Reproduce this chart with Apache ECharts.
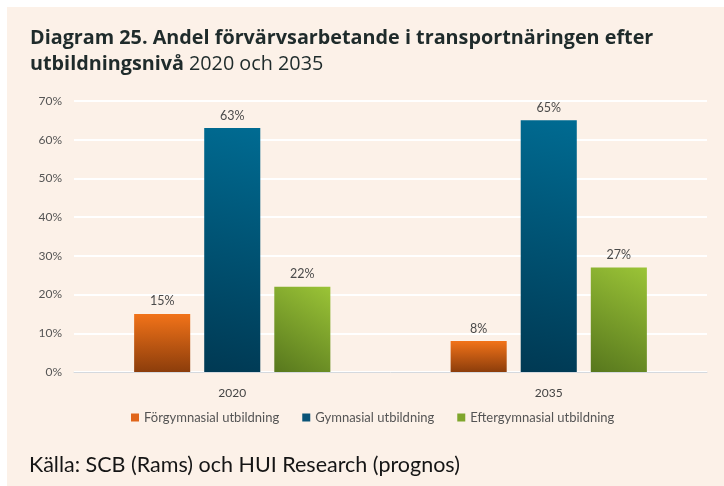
<!DOCTYPE html>
<html>
<head>
<meta charset="utf-8">
<script src="https://cdn.jsdelivr.net/npm/echarts@6/dist/echarts.min.js"></script>
<style>
    html, body { margin: 0; padding: 0; background: #fff; }
    #chart { width: 724px; height: 486px; }
</style>
</head>
<body>
<div id="chart"></div>
<script>
// data
var years = ["2020", "2035"];
var forgymnasial = [15, 8];
var gymnasial = [63, 65];
var eftergymnasial = [22, 27];
var seriesNames = ["Förgymnasial utbildning", "Gymnasial utbildning", "Eftergymnasial utbildning"];
var yTicks = [0, 10, 20, 30, 40, 50, 60, 70];

(function() {
    var myChart = echarts.init(document.getElementById("chart"));
    var font = "Lato, 'Open Sans', sans-serif";
    var titleFont = "'Open Sans', Lato, sans-serif";

    function grad(x, y, x2, y2, c1, c2) {
        return new echarts.graphic.LinearGradient(x, y, x2, y2, [
            { offset: 0, color: c1 },
            { offset: 1, color: c2 }
        ]);
    }
    var colors = [
        grad(0, 0, 0, 1, "#f27319", "#8c3d0b"),
        grad(1, 0, 0, 1, "#006b92", "#003953"),
        grad(1, 0, 0, 1, "#9bc437", "#57771d")
    ];
    var legendColors = ["#e0651a", "#0a5478", "#7fa62c"];
    var allData = [forgymnasial, gymnasial, eftergymnasial];

    var series = seriesNames.map(function(name, i) {
        return {
            name: name,
            type: "bar",
            data: allData[i],
            barGap: "25%",
            barCategoryGap: "38%",
            itemStyle: { color: colors[i] },
            label: {
                show: true,
                position: "top",
                distance: 6,
                formatter: "{c}%",
                color: "#4a4a4a",
                fontSize: 12.5,
                fontFamily: font
            }
        };
    });

    var option = {
        backgroundColor: "#ffffff",
        animation: false,
        graphic: [{
            type: "rect",
            left: 7,
            top: 7,
            z: -10,
            shape: { width: 717, height: 479 },
            style: { fill: "#fcf1e8" }
        }, {
            type: "text",
            left: 29,
            top: 454,
            style: {
                text: "Källa: SCB (Rams) och HUI Research (prognos)",
                fontSize: 21.5,
                fontFamily: font,
                fill: "#151515"
            }
        }],
        title: {
            left: 25,
            top: 20,
            text: "{b|Diagram 25. Andel förvärvsarbetande i transportnäringen efter}\n{b|utbildningsnivå} {n|2020 och 2035}",
            textStyle: {
                rich: {
                    b: { fontSize: 19.8, fontWeight: "bold", color: "#1f2b2b", fontFamily: titleFont, lineHeight: 26 },
                    n: { fontSize: 19.8, fontWeight: "normal", color: "#1f2b2b", fontFamily: titleFont, lineHeight: 26 }
                }
            }
        },
        legend: {
            bottom: 57,
            left: 126,
            itemWidth: 8,
            itemHeight: 8,
            itemGap: 23,
            icon: "rect",
            textStyle: { color: "#555", fontSize: 13, fontFamily: font },
            data: seriesNames.map(function(n, i) {
                return { name: n, itemStyle: { color: legendColors[i] } };
            })
        },
        grid: {
            left: 74,
            right: 17,
            top: 101,
            bottom: 114
        },
        xAxis: {
            type: "category",
            data: years,
            axisLine: { lineStyle: { color: "#d5d9de", width: 1 } },
            axisTick: { show: false },
            axisLabel: { color: "#444", fontSize: 12, fontFamily: font, margin: 15 }
        },
        yAxis: {
            type: "value",
            min: yTicks[0],
            max: yTicks[yTicks.length - 1],
            interval: 10,
            axisLine: { show: false },
            axisTick: { show: false },
            splitLine: { lineStyle: { color: "#ffffff", width: 2 } },
            axisLabel: { color: "#555", fontSize: 12, fontFamily: font, margin: 12, formatter: "{value}%" }
        },
        series: series
    };
    myChart.setOption(option);
}());
</script>
</body>
</html>
